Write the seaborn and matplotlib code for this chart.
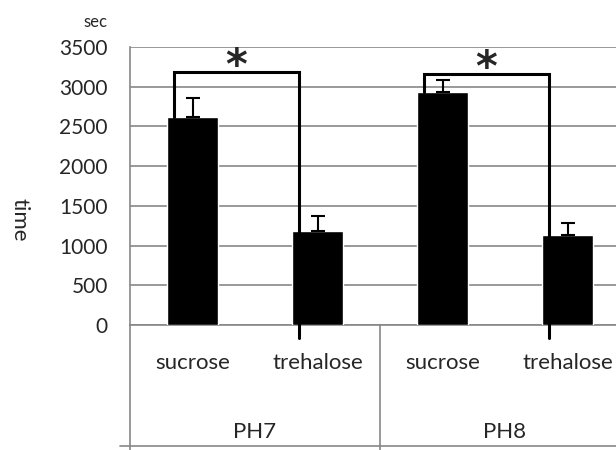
import pandas as pd
import numpy as np
import matplotlib
matplotlib.use("Agg")
import matplotlib.pyplot as plt
import seaborn as sns

# data
groups = ["PH7", "PH7", "PH8", "PH8"]
sugars = ["sucrose", "trehalose", "sucrose", "trehalose"]
mean_time = [2620, 1180, 2930, 1130]
err_time = [235, 195, 160, 150]
y_ticks = [0, 500, 1000, 1500, 2000, 2500, 3000, 3500]

# significance brackets: (left bar, right bar, bracket height)
sig_left = [0, 2]
sig_right = [1, 3]
sig_height = [3190, 3165]

GRAY = "#878787"
FONT = ["Lato", "DejaVu Sans"]


def main():
    sns.set_style("white")
    plt.rcParams["font.family"] = FONT

    df = pd.DataFrame({
        "key": [f"{g} {s}" for g, s in zip(groups, sugars)],
        "group": groups,
        "sugar": sugars,
        "time": mean_time,
    })

    fig = plt.figure(figsize=(6.16, 4.5), dpi=100)
    ax = fig.add_axes([130 / 616, 125 / 450, 500 / 616, 278 / 450])

    sns.barplot(data=df, x="key", y="time", order=list(df["key"]),
                color="black", width=0.41, saturation=1, ax=ax, zorder=3)

    # upper error bars only
    xs = np.arange(len(df))
    ax.errorbar(xs, df["time"], yerr=[np.zeros(len(df)), err_time], fmt="none",
                ecolor="black", elinewidth=1.5, capsize=5, capthick=1.5, zorder=4)

    # 1. axes styling, Excel-like
    ax.set_ylim(0, 3500)
    ax.set_xlim(-0.5, len(df) - 0.5)
    ax.set_yticks(y_ticks)
    ax.set_yticklabels([str(v) for v in y_ticks], fontsize=15)
    ax.tick_params(axis="y", length=0, pad=16)
    ax.tick_params(axis="x", length=0, labelbottom=False)
    ax.set_xlabel("")
    ax.set_ylabel("")
    ax.yaxis.grid(True, color=GRAY, linewidth=1.2, zorder=0)
    ax.set_axisbelow(True)
    for side in ["top", "right"]:
        ax.spines[side].set_visible(False)
    for side in ["left", "bottom"]:
        ax.spines[side].set_color(GRAY)
        ax.spines[side].set_linewidth(1.2)

    fig.text(95 / 616, 1 - 22 / 450, "sec", fontsize=12, ha="center", va="center")
    fig.text(20 / 616, 1 - 220 / 450, "time", fontsize=16, rotation=270,
             ha="center", va="center")

    # 2. two-level category labels under the axis
    tr = ax.get_xaxis_transform()
    for i, s in enumerate(sugars):
        ax.text(i, -0.137, s, transform=tr, ha="center", va="center", fontsize=16)
    for g in pd.unique(pd.Series(groups)):
        idx = [i for i, gg in enumerate(groups) if gg == g]
        ax.text(np.mean(idx), -0.385, g, transform=tr, ha="center", va="center",
                fontsize=16)
    ax.plot([-0.5, -0.5], [0, -0.5], transform=tr, color=GRAY, lw=1.2, clip_on=False)
    ax.plot([1.5, 1.5], [0, -0.5], transform=tr, color=GRAY, lw=1.2, clip_on=False)
    ax.plot([-0.58, 3.5], [-0.435, -0.435], transform=tr, color=GRAY, lw=1.2,
            clip_on=False)

    # 3. significance brackets
    off = -0.15
    for l, r, h in zip(sig_left, sig_right, sig_height):
        ax.plot([l + off, l + off, r + off, r + off],
                [mean_time[l], h, h, -165],
                color="black", lw=2.2, clip_on=False, zorder=5,
                solid_joinstyle="miter")
        ax.text((l + r) / 2 + off, h - 210, "*", ha="center", va="bottom",
                fontsize=30, fontweight="bold", family=["DejaVu Sans"])

    fig.savefig("out.png", dpi=100)


if __name__ == "__main__":
    main()
